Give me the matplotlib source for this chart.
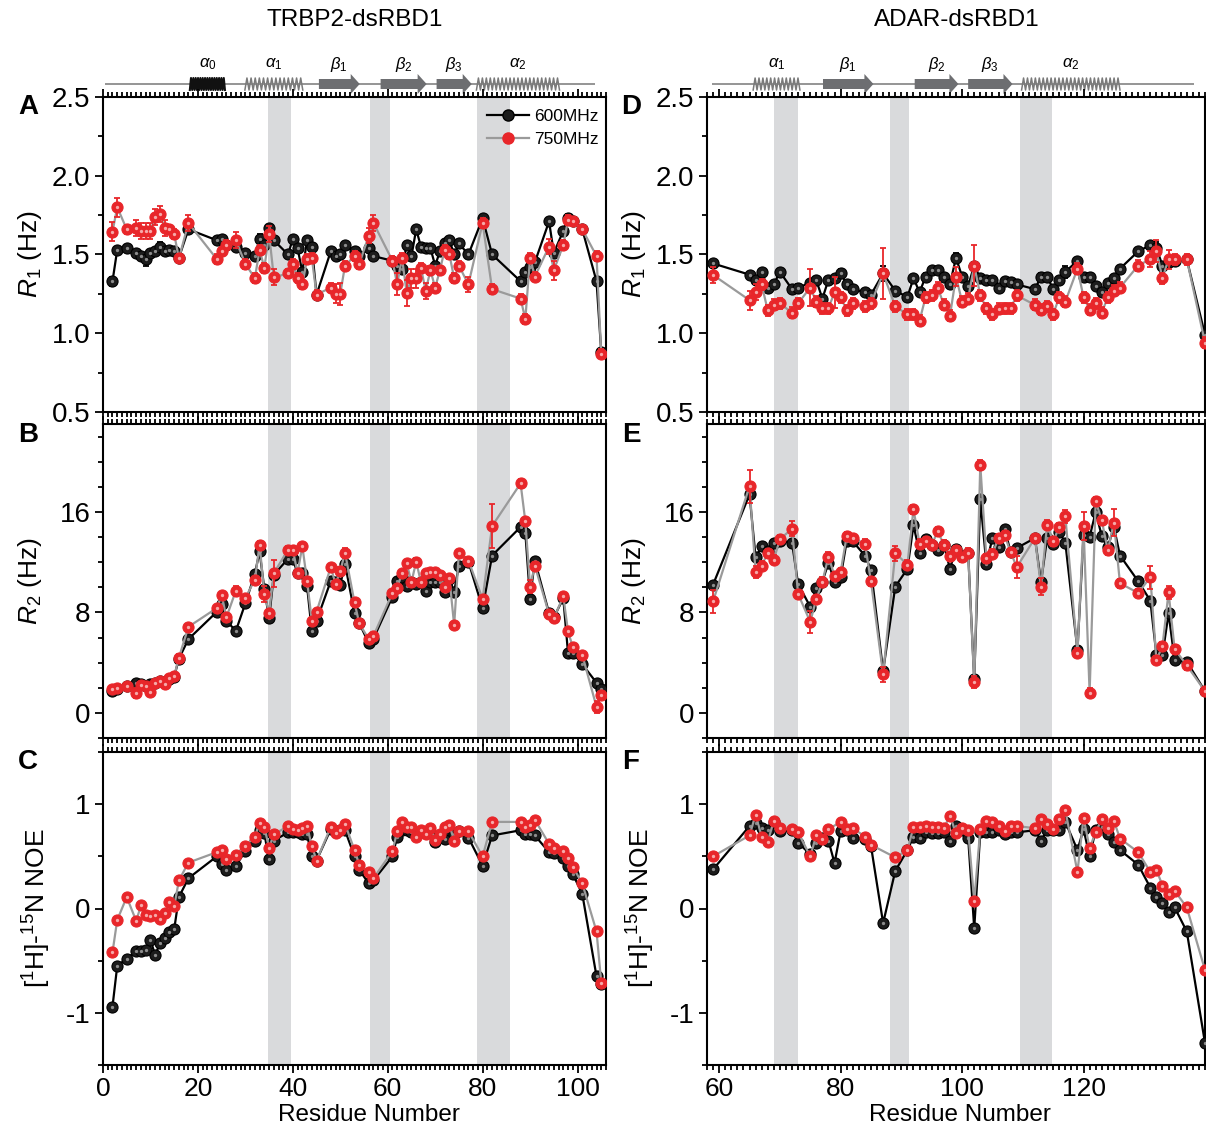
import numpy as np
import matplotlib
matplotlib.use("Agg")
import matplotlib.pyplot as plt
from matplotlib.patches import Polygon
from matplotlib.lines import Line2D
from matplotlib.ticker import MultipleLocator, FixedLocator

plt.rcParams['font.family'] = ['Liberation Sans', 'DejaVu Sans']
plt.rcParams['mathtext.fontset'] = 'custom'
plt.rcParams['mathtext.rm'] = 'Liberation Sans'
plt.rcParams['mathtext.it'] = 'Liberation Sans:italic'
plt.rcParams['mathtext.bf'] = 'Liberation Sans:bold'
plt.rcParams['axes.unicode_minus'] = False

nan = np.nan

# ---------------- TRBP2-dsRBD1 ----------------
trbp_res = [2, 3, 5, 7, 8, 9, 10, 11, 12, 13, 14, 15, 16, 18,
            24, 25, 26, 28, 30, 32, 33, 34, 35, 36,
            39, 40, 41, 42, 43, 44, 45,
            48, 49, 50, 51, 53, 54, 56, 57,
            61, 62, 63, 64, 65, 66, 67, 68, 69, 70, 71, 72, 73, 74, 75,
            77, 80, 82,
            88, 89, 90, 91,
            94, 95, 97, 98, 99, 101, 104, 105]

trbp_r1_600 = [1.33, 1.53, 1.54, 1.51, 1.49, 1.47, 1.51, 1.52, 1.55, 1.52, 1.53, 1.52, 1.48, 1.66,
               1.59, 1.60, 1.56, 1.55, 1.51, 1.49, 1.60, 1.56, 1.67, 1.59,
               1.50, 1.60, 1.54, 1.39, 1.59, 1.55, 1.245,
               1.52, 1.49, 1.50, 1.56, 1.52, 1.49, 1.54, 1.49,
               1.46, 1.43, 1.41, 1.56, 1.49, 1.66, 1.55, 1.54, 1.54, 1.43, 1.52, 1.57, 1.59, 1.50, 1.57,
               1.50, 1.73, 1.50,
               1.33, 1.39, 1.42, 1.45,
               1.71, 1.51, 1.65, 1.73, 1.71, 1.66, 1.33, 0.88]
trbp_r1_750 = [1.645, 1.80, 1.66, 1.67, 1.65, 1.65, 1.65, 1.74, 1.755, 1.67, 1.66, 1.63, 1.475, 1.70,
               1.47, 1.52, 1.56, 1.59, 1.44, 1.35, 1.53, 1.415, 1.63, 1.355,
               1.38, 1.44, 1.35, 1.31, 1.47, 1.48, 1.245,
               1.29, 1.25, 1.25, 1.43, 1.49, 1.44, 1.62, 1.70,
               1.46, 1.31, 1.48, 1.255, 1.35, 1.35, 1.415, 1.27, 1.40, 1.29, 1.40, 1.53, 1.50, 1.35, 1.43,
               1.31, 1.70, 1.28,
               1.22, 1.09, 1.48, 1.36,
               1.55, 1.40, 1.56, 1.72, 1.71, 1.66, 1.49, 0.87]

trbp_r2_600 = [1.73, 1.87, 2.13, 2.35, 2.27, 2.13, 2.27, 2.40, 2.53, 2.40, 2.67, 2.88, 4.32, 5.87,
               8.05, 8.67, 7.33, 6.53, 8.72, 11.07, 12.85, 9.87, 7.52, 11.0,
               12.27, 12.27, 11.1, 11.1, 10.1, 6.53, 7.33,
               10.5, 10.4, 10.2, 11.87, 7.95, 7.15, 5.55, 5.92,
               9.25, 10.53, 10.8, 10.13, 10.4, 10.27, 10.4, 9.73, 10.4, 10.4, 10.4, 9.6, 10.67, 9.65, 11.73,
               12.05, 8.32, 12.53,
               14.8, 14.35, 9.07, 12.13,
               7.95, 7.6, 9.12, 4.75, 4.8, 3.87, 2.4, 1.87]
trbp_r2_750 = [1.92, 2.0, 2.13, 1.55, 2.2, 2.13, 1.65, 2.4, 2.53, 2.27, 2.8, 2.93, 4.4, 6.85,
               8.35, 9.4, 7.6, 9.73, 9.15, 10.6, 13.4, 9.47, 7.95, 11.12,
               13.0, 13.0, 11.12, 13.28, 10.53, 7.33, 8.05,
               11.6, 10.27, 11.28, 12.75, 8.8, 7.12, 5.87, 6.13,
               9.55, 9.95, 11.12, 11.92, 10.4, 12.05, 10.4, 11.15, 11.2, 11.2, 11.0, 10.0, 10.72, 6.99, 12.75,
               12.13, 9.07, 14.88,
               18.27, 15.25, 10.05, 11.73,
               7.87, 7.52, 9.28, 6.48, 5.25, 4.61, 0.48, 1.39]

trbp_noe_600 = [-0.94, -0.55, -0.48, -0.41, -0.41, -0.40, -0.30, -0.45, -0.33, -0.28, -0.23, -0.20, 0.11, 0.29,
                0.50, 0.43, 0.37, 0.41, 0.55, 0.65, 0.75, 0.72, 0.47, 0.65,
                0.73, 0.73, 0.73, 0.71, 0.71, 0.50, 0.46,
                0.76, 0.73, 0.75, 0.75, 0.50, 0.37, 0.24, 0.27,
                0.50, 0.69, 0.75, 0.75, 0.73, 0.72, 0.73, 0.72, 0.73, 0.64, 0.69, 0.67, 0.75, 0.71, 0.74,
                0.68, 0.41, 0.70,
                0.75, 0.71, 0.71, 0.70,
                0.54, 0.53, 0.48, 0.41, 0.33, 0.14, -0.65, -0.72]
trbp_noe_750 = [-0.42, -0.11, 0.11, -0.12, 0.03, -0.06, -0.07, -0.06, -0.10, -0.04, 0.06, 0.02, 0.27, 0.44,
                0.54, 0.56, 0.47, 0.51, 0.60, 0.69, 0.82, 0.78, 0.58, 0.71,
                0.79, 0.76, 0.75, 0.77, 0.79, 0.60, 0.46,
                0.78, 0.72, 0.75, 0.81, 0.56, 0.42, 0.35, 0.29,
                0.55, 0.74, 0.83, 0.78, 0.78, 0.69, 0.75, 0.71, 0.77, 0.66, 0.71, 0.78, 0.80, 0.65, 0.74,
                0.74, 0.50, 0.83,
                0.83, 0.78, 0.80, 0.85,
                0.62, 0.58, 0.55, 0.48, 0.40, 0.24, -0.22, -0.71]

# error bars: typical value plus the larger ones
trbp_r1_err600 = (0.02, {2: 0.03, 9: 0.04, 12: 0.03, 33: 0.03, 98: 0.03})
trbp_r1_err750 = (0.03, {2: 0.06, 3: 0.06, 7: 0.05, 8: 0.05, 9: 0.05, 10: 0.05, 11: 0.05, 12: 0.05,
                         13: 0.05, 18: 0.05, 28: 0.05, 35: 0.05, 36: 0.05, 49: 0.06, 50: 0.07,
                         56: 0.05, 57: 0.05, 62: 0.07, 64: 0.08, 65: 0.06, 66: 0.06, 68: 0.05,
                         77: 0.05, 94: 0.05, 95: 0.06})
trbp_r2_err600 = (0.2, {})
trbp_r2_err750 = (0.25, {7: 0.4, 28: 0.4, 33: 0.3, 34: 0.65, 36: 1.07, 50: 0.3, 51: 0.4,
                         82: 1.75, 88: 0.35, 90: 0.5, 104: 0.5})

trbp_shade = [(34.7, 39.7), (56.3, 60.4), (78.9, 85.8)]
trbp_ss = [('helix0', 18.3, 25.7, r'$\alpha_0$'), ('helix', 29.9, 42.1, r'$\alpha_1$'),
           ('strand', 45.5, 54.1, r'$\beta_1$'), ('strand', 58.5, 68.2, r'$\beta_2$'),
           ('strand', 70.3, 77.7, r'$\beta_3$'), ('helix', 78.7, 96.2, r'$\alpha_2$')]
trbp_ss_line = (0.4, 103.6)

# ---------------- ADAR-dsRBD1 ----------------
adar_res = [59, 65, 66, 67, 68, 69, 70, 72, 73, 75, 76, 77, 78, 79, 80, 81, 82, 84, 85, 87, 89,
            91, 92, 93, 94, 95, 96, 97, 98, 99, 100, 101, 102, 103, 104, 105, 106, 107, 108, 109,
            112, 113, 114, 115, 116, 117, 119, 120, 121, 122, 123, 124, 125, 126,
            129, 131, 132, 133, 134, 135, 137, 140]

adar_r1_600 = [1.443, 1.372, 1.336, 1.39, 1.29, 1.31, 1.39, 1.28, 1.29, 1.32, 1.336, 1.22, 1.34, 1.35, 1.385, 1.31, 1.28, 1.26, 1.245, 1.38, 1.27,
               1.23, 1.35, 1.26, 1.36, 1.40, 1.40, 1.36, 1.31, 1.48, 1.36, 1.30, 1.43, 1.35, 1.336, 1.34, 1.29, 1.33, 1.325, 1.31,
               1.28, 1.36, 1.36, 1.28, 1.336, 1.39, 1.46, 1.36, 1.36, 1.30, 1.26, 1.32, 1.35, 1.41,
               1.52, 1.56, 1.54, 1.43, 1.45, 1.46, 1.47, 0.99]
adar_r1_750 = [1.37, 1.21, 1.26, 1.31, 1.145, 1.18, 1.19, 1.13, 1.19, 1.29, 1.20, 1.16, 1.16, 1.26, 1.23, 1.145, 1.19, 1.17, 1.19, 1.38, 1.17,
               1.12, 1.12, 1.08, 1.23, 1.24, 1.29, 1.18, 1.11, 1.36, 1.20, 1.22, 1.43, 1.24, 1.16, 1.12, 1.155, 1.16, 1.16, 1.24,
               1.18, 1.15, 1.17, 1.12, 1.23, 1.20, 1.41, 1.23, 1.15, 1.19, 1.13, 1.23, 1.27, 1.29,
               1.43, 1.47, 1.52, 1.35, 1.47, 1.47, 1.47, 0.94]

adar_r2_600 = [10.21, 17.39, 12.4, 13.25, 12.9, 13.55, 13.65, 13.55, 10.27, 8.45, 9.92, 10.45, 11.95, 10.45, 10.8, 13.65, 13.65, 12.53, 11.41, 3.33, 10.05,
               11.47, 14.93, 12.75, 13.81, 13.39, 12.93, 13.39, 11.47, 13.07, 12.53, 12.75, 2.67, 16.99, 11.87, 13.92, 13.2, 14.67, 12.8, 13.12,
               13.92, 10.4, 13.92, 13.47, 14.4, 13.55, 4.99, 14.13, 14.0, 16.0, 14.08, 13.2, 14.8, 12.53,
               10.48, 8.93, 4.61, 4.61, 7.92, 4.21, 4.08, 1.73]
adar_r2_750 = [8.88, 18.05, 11.2, 11.73, 12.72, 12.21, 13.81, 14.67, 9.47, 7.25, 9.07, 10.45, 12.45, 10.9, 11.2, 14.08, 13.92, 13.47, 10.48, 3.07, 12.72,
               11.81, 16.21, 13.47, 13.65, 13.39, 14.45, 13.39, 12.48, 12.93, 12.4, 12.75, 2.45, 19.73, 12.32, 12.67, 13.92, 14.13, 12.8, 11.6,
               13.92, 10.05, 14.99, 13.65, 14.8, 15.65, 4.8, 14.88, 1.6, 16.85, 15.33, 12.93, 15.15, 10.32,
               9.55, 10.8, 4.21, 5.33, 9.6, 5.07, 3.79, 1.73]

adar_noe_600 = [0.375, 0.79, 0.82, 0.77, 0.75, 0.83, 0.74, 0.75, 0.63, 0.52, 0.63, 0.68, 0.65, 0.435, 0.74, 0.75, 0.68, 0.67, 0.60, -0.14, 0.36,
                0.56, 0.69, 0.68, 0.73, 0.72, 0.72, 0.73, 0.65, 0.79, 0.75, 0.68, -0.19, 0.73, 0.73, 0.73, 0.75, 0.71, 0.73, 0.73,
                0.75, 0.65, 0.75, 0.75, 0.75, 0.83, 0.56, 0.76, 0.50, 0.75, 0.78, 0.71, 0.64, 0.56,
                0.42, 0.20, 0.11, 0.05, -0.03, 0.01, -0.22, -1.29]
adar_noe_750 = [0.50, 0.70, 0.90, 0.69, 0.64, 0.84, 0.77, 0.76, 0.73, 0.50, 0.70, 0.67, 0.76, nan, 0.83, 0.76, 0.77, 0.69, 0.61, nan, 0.49,
                0.56, 0.78, 0.78, 0.79, 0.78, 0.78, 0.77, 0.89, 0.72, 0.77, 0.75, 0.07, 0.76, 0.84, 0.83, 0.79, 0.74, 0.79, 0.79,
                0.77, 0.86, 0.81, 0.76, 0.86, 0.94, 0.35, 0.87, 0.58, 0.73, 0.86, 0.77, 0.84, 0.67,
                0.54, 0.35, 0.37, 0.22, 0.14, 0.17, 0.01, -0.59]

adar_r1_err600 = (0.02, {87: 0.05, 99: 0.03, 117: 0.04, 132: 0.04})
adar_r1_err750 = (0.035, {59: 0.05, 65: 0.06, 66: 0.05, 75: 0.12, 79: 0.1, 87: 0.16, 99: 0.06,
                          102: 0.13, 131: 0.05, 132: 0.07, 134: 0.06})
adar_r2_err600 = (0.2, {})
adar_r2_err750 = (0.35, {59: 0.9, 65: 1.3, 66: 0.5, 72: 0.6, 75: 0.9, 87: 0.6, 89: 0.6, 102: 0.5,
                         103: 0.4, 109: 0.9, 113: 0.7, 117: 0.5, 120: 1.1, 125: 1.1, 131: 0.9, 134: 0.5})

adar_shade = [(69.1, 73.0), (88.1, 91.2), (109.5, 114.8)]
adar_ss = [('helix', 65.6, 73.3, r'$\alpha_1$'), ('strand', 77.1, 85.4, r'$\beta_1$'),
           ('strand', 92.2, 99.4, r'$\beta_2$'), ('strand', 101.0, 108.3, r'$\beta_3$'),
           ('helix', 109.8, 126.0, r'$\alpha_2$')]
adar_ss_line = (58.9, 138.2)

# ---------------- figure ----------------
W, H = 1206, 1131
fig = plt.figure(figsize=(W / 100, H / 100), dpi=100)


def box(x0, y0, x1, y1):
    return [x0 / W, 1 - y1 / H, (x1 - x0) / W, (y1 - y0) / H]


RED = '#e8262a'
GREY_LINE = '#9a9a9a'
SHADE = '#d9dadc'

col_px = [(103, 606), (707, 1205)]
row_px = [(97, 412), (424, 738), (752, 1065)]
ylims = [(0.5, 2.5), (-2, 23), (-1.5, 1.5)]
ymaj = [0.5, 8, 1]
ymin = [0.25, 2, 0.5]
ylabels = [r'$R_1$ (Hz)', r'$R_2$ (Hz)', r'[$^1$H]-$^{15}$N NOE']
ylab_x = [-0.118, -0.118, -0.10]


def errs(spec, res):
    default, special = spec
    return np.array([special.get(r, default) for r in res])


def draw_series(ax, x, y, yerr, line_color, face, edge, hi, zo):
    x = np.asarray(x, float)
    y = np.asarray(y, float)
    m = ~np.isnan(y)
    ax.plot(x[m], y[m], '-', color=line_color, lw=1.6, zorder=zo)
    if yerr is not None:
        ax.errorbar(x[m], y[m], yerr=yerr[m], fmt='none', ecolor=edge, elinewidth=1.3,
                    capsize=2.5, capthick=1.3, zorder=zo + 0.1)
    ax.plot(x[m], y[m], 'o', ms=8, mfc=face, mec=edge, mew=0.8, zorder=zo + 0.2)
    ax.plot(x[m], y[m], 'o', ms=2.4, mfc=hi, mec='none', zorder=zo + 0.3)


def draw_ss(ax, elems, ppu, span):
    yc = 84
    ax.plot(span, [yc, yc], color='#8c8c8c', lw=1.3, zorder=1, solid_capstyle='butt')
    for kind, xs, xe, lab in elems:
        if kind == 'strand':
            bh, hh, hl = 5, 10, 9 / ppu
            pts = [(xs, yc - bh), (xe - hl, yc - bh), (xe - hl, yc - hh), (xe, yc),
                   (xe - hl, yc + hh), (xe - hl, yc + bh), (xs, yc + bh)]
            ax.add_patch(Polygon(pts, closed=True, fc='#6d6e71', ec='none', zorder=2))
        else:
            dark = kind == 'helix0'
            step = (2.4 if dark else 4.0) / ppu
            n = max(1, int(round((xe - xs) / step)))
            xz = np.linspace(xs, xe, 2 * n + 1)
            yz = np.where(np.arange(2 * n + 1) % 2 == 0, yc + 6, yc - 6)
            ax.plot(xz, yz, color='#111111' if dark else '#7a7a7a',
                    lw=1.5 if dark else 1.1, zorder=2)
        ax.text((xs + xe) / 2, 64, lab, ha='center', va='center', fontsize=12)


columns = [
    dict(res=trbp_res, xlim=(0, 106), xticks=[0, 20, 40, 60, 80, 100], shade=trbp_shade,
         ss=trbp_ss, ss_line=trbp_ss_line, title='TRBP2-dsRBD1', title_x=355, xlab_x=369,
         letters='ABC', letter_x=28,
         data=[(trbp_r1_600, trbp_r1_750, trbp_r1_err600, trbp_r1_err750),
               (trbp_r2_600, trbp_r2_750, trbp_r2_err600, trbp_r2_err750),
               (trbp_noe_600, trbp_noe_750, None, None)]),
    dict(res=adar_res, xlim=(58, 140), xticks=[60, 80, 100, 120], shade=adar_shade,
         ss=adar_ss, ss_line=adar_ss_line, title='ADAR-dsRBD1', title_x=957, xlab_x=960,
         letters='DEF', letter_x=631,
         data=[(adar_r1_600, adar_r1_750, adar_r1_err600, adar_r1_err750),
               (adar_r2_600, adar_r2_750, adar_r2_err600, adar_r2_err750),
               (adar_noe_600, adar_noe_750, None, None)]),
]

letter_y = [107, 435, 762]

for ci, col in enumerate(columns):
    x0, x1 = col_px[ci]
    res = col['res']
    ppu = (x1 - x0) / (col['xlim'][1] - col['xlim'][0])

    # secondary structure strip
    ax_ss = fig.add_axes(box(x0, 48, x1, 97))
    ax_ss.set_xlim(*col['xlim'])
    ax_ss.set_ylim(97, 48)
    ax_ss.axis('off')
    draw_ss(ax_ss, col['ss'], ppu, col['ss_line'])

    fig.text(col['title_x'] / W, 1 - 20 / H, col['title'], ha='center', va='center', fontsize=17.5)

    for ri in range(3):
        y0, y1 = row_px[ri]
        ax = fig.add_axes(box(x0, y0, x1, y1))
        y600, y750, e600, e750 = col['data'][ri]

        for a, b in col['shade']:
            ax.axvspan(a, b, color=SHADE, lw=0, zorder=0)

        draw_series(ax, res, y600, errs(e600, res) if e600 else None,
                    'black', '#1c1c1c', 'black', '#8c8c8c', 3)
        draw_series(ax, res, y750, errs(e750, res) if e750 else None,
                    GREY_LINE, RED, RED, '#f6a9a9', 4)

        ax.set_xlim(*col['xlim'])
        ax.set_ylim(*ylims[ri])
        ax.xaxis.set_major_locator(FixedLocator(col['xticks']))
        ax.xaxis.set_minor_locator(MultipleLocator(1))
        ax.yaxis.set_major_locator(MultipleLocator(ymaj[ri]))
        ax.yaxis.set_minor_locator(MultipleLocator(ymin[ri]))
        if ri == 0:
            ax.yaxis.set_major_formatter(matplotlib.ticker.FormatStrFormatter('%.1f'))

        for s in ax.spines.values():
            s.set_linewidth(1.5)
        ax.tick_params(which='both', direction='out', width=1.3, top=True, right=False,
                       labelbottom=(ri == 2), labeltop=False)
        ax.tick_params(which='major', length=6, pad=3)
        ax.tick_params(which='minor', length=3.5)
        ax.tick_params(axis='y', labelsize=20)
        ax.tick_params(axis='x', labelsize=19)

        ax.set_ylabel(ylabels[ri], fontsize=19)
        ax.yaxis.set_label_coords(ylab_x[ri], 0.5)

        if ri == 2:
            ax.set_xlabel('Residue Number', fontsize=17.5)
            ax.xaxis.set_label_coords((col['xlab_x'] - x0) / (x1 - x0), -0.125)

        if ci == 0 and ri == 0:
            h1 = Line2D([], [], color='black', lw=1.6, marker='o', ms=8, mfc='#1c1c1c', mec='black')
            h2 = Line2D([], [], color=GREY_LINE, lw=1.6, marker='o', ms=8, mfc=RED, mec=RED)
            ax.legend([h1, h2], ['600MHz', '750MHz'], loc='upper right', bbox_to_anchor=(1.01, 1.0),
                      frameon=False, fontsize=12.5, handlelength=2.4, handletextpad=0.3,
                      borderaxespad=0.3, labelspacing=0.45)

        fig.text(col['letter_x'] / W, 1 - letter_y[ri] / H, col['letters'][ri],
                 ha='center', va='center', fontsize=20, fontweight='bold')

fig.savefig('out.png', dpi=100)
